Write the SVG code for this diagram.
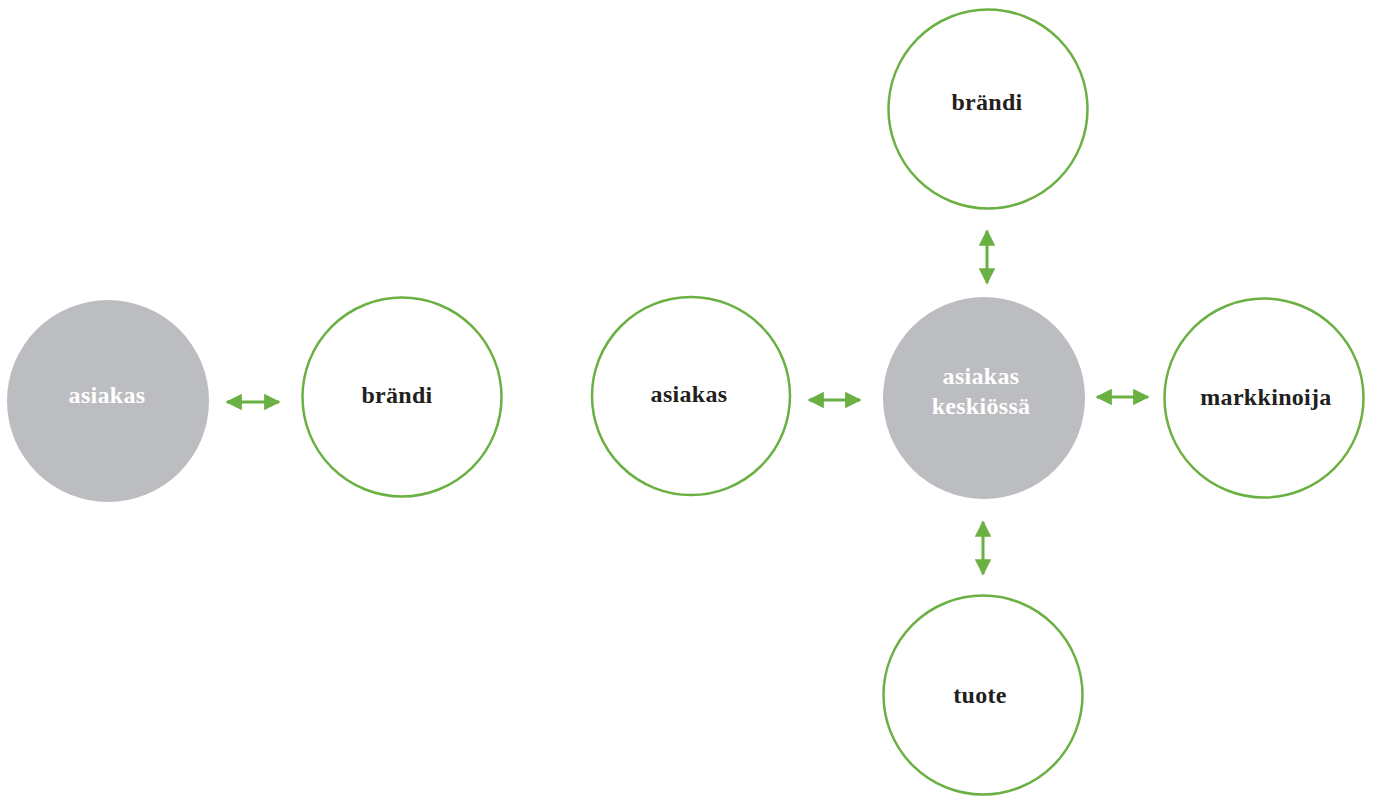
<svg xmlns="http://www.w3.org/2000/svg" width="1373" height="796" viewBox="0 0 1373 796">
<style>
.o{fill:#fff;stroke:#6ab043;stroke-width:2.5}
.g{fill:#bcbdc0}
.t{font-family:"Liberation Serif",serif;font-weight:bold;font-size:24px;letter-spacing:0.3px;text-anchor:middle;fill:#231f20}
.w{fill:#fff}
.c{stroke:#6ab043;stroke-width:3;fill:none;marker-start:url(#a);marker-end:url(#a)}
</style>
<defs>
<marker id="a" viewBox="0 0 10 10" refX="9" refY="5" markerWidth="6" markerHeight="5.5" markerUnits="strokeWidth" orient="auto-start-reverse">
<path d="M0,0L10,5L0,10z" fill="#6ab043"/>
</marker>
</defs>
<g id="n1"><circle class="g" cx="108" cy="401" r="101"/><text class="t w" x="107" y="403">asiakas</text></g>
<g id="n2"><circle class="o" cx="402" cy="397" r="99.5"/><text class="t" x="397" y="403">brändi</text></g>
<g id="n3"><circle class="o" cx="691" cy="396" r="99"/><text class="t" x="689" y="402">asiakas</text></g>
<g id="n4"><circle class="g" cx="984" cy="398" r="101"/><text class="t w" x="981" y="384">asiakas</text><text class="t w" x="981" y="414">keskiössä</text></g>
<g id="n5"><circle class="o" cx="988" cy="109" r="99.5"/><text class="t" x="987" y="110">brändi</text></g>
<g id="n6"><circle class="o" cx="1264" cy="398" r="99.5"/><text class="t" x="1266" y="405">markkinoija</text></g>
<g id="n7"><circle class="o" cx="983" cy="695" r="99.5"/><text class="t" x="980" y="703">tuote</text></g>
<g id="connectors">
<line class="c" x1="227" y1="402" x2="279" y2="402"/>
<line class="c" x1="809" y1="400" x2="860" y2="400"/>
<line class="c" x1="1097" y1="397" x2="1148" y2="397"/>
<line class="c" x1="987" y1="231" x2="987" y2="283"/>
<line class="c" x1="983" y1="522" x2="983" y2="574"/>
</g>
</svg>
